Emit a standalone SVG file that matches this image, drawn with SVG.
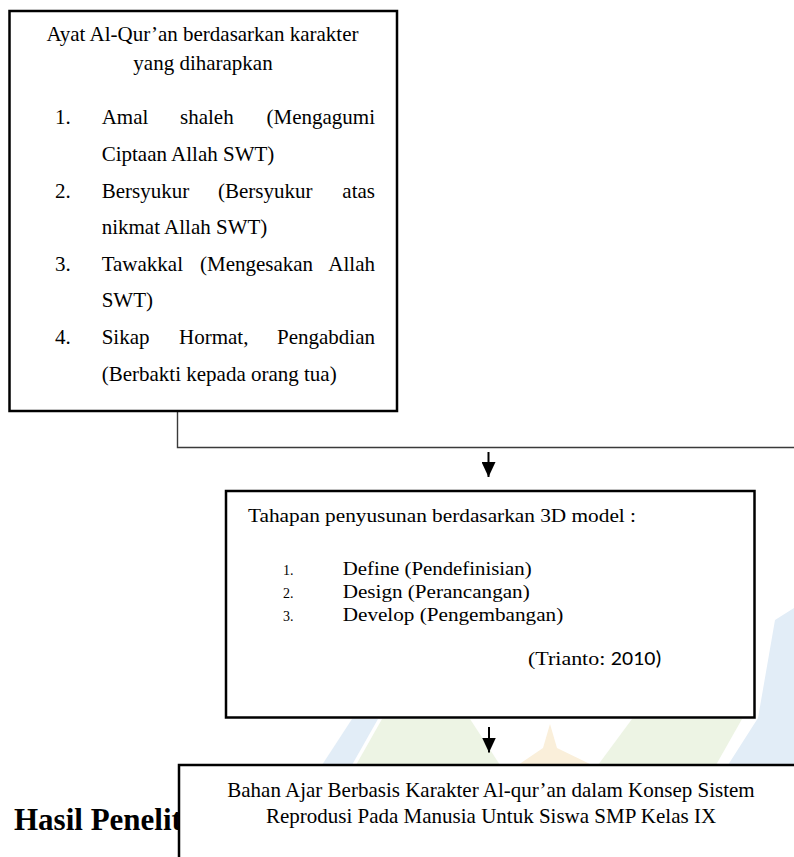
<svg xmlns="http://www.w3.org/2000/svg" width="794" height="857" viewBox="0 0 794 857">
<style>
.box{fill:#fff;stroke:#000;stroke-width:2.5}
.t{font-family:"Liberation Serif","Times New Roman",serif;font-size:21px;fill:#000}
.t2{font-family:"Liberation Serif","Times New Roman",serif;font-size:19.5px;fill:#000}
.num{font-family:"Liberation Serif","Times New Roman",serif;font-size:14px;fill:#000}
.sans{font-family:Carlito,"Liberation Sans",Calibri,sans-serif}
.h{font-family:"Liberation Serif","Times New Roman",serif;font-size:31px;font-weight:bold;fill:#000}
.conn{fill:none;stroke:#3a3a3a;stroke-width:1.4}
.arrow{stroke:#000;stroke-width:2;fill:none}
.wb{fill:#e2edf7}
.wg{fill:#edf4e4}
.wo{fill:#faefda}
</style>
<defs>
<marker id="ah" viewBox="0 0 15 14" refX="15" refY="7" markerWidth="15" markerHeight="14" markerUnits="userSpaceOnUse" orient="auto">
<path d="M0,0 L15,7 L0,14 z" fill="#000"/>
</marker>
</defs>
<rect width="794" height="857" fill="#fff"/>
<g id="watermark">
<polygon class="wb" points="775,620 794,608 794,765 728,765 758,718"/>
<polygon class="wb" points="322,765 352,719 378,719 352,765"/>
<polygon class="wg" points="356,765 382,719 470,719 500,765"/>
<polygon class="wo" points="518,765 543,748 550,724 557,748 592,765"/>
<polygon class="wg" points="598,765 632,719 742,719 716,765"/>
</g>
<text class="h" x="14" y="830">Hasil Penelit</text>
<g id="connectors">
<path class="conn" d="M177.5 411 V447.5 H794"/>
<line class="arrow" x1="488.5" y1="452" x2="488.5" y2="477" marker-end="url(#ah)"/>
<line class="arrow" x1="489" y1="727" x2="489" y2="752.5" marker-end="url(#ah)"/>
</g>
<g id="node1">
<rect class="box" x="9.5" y="11" width="387.5" height="400"/>
<text class="t" x="202.5" y="41" text-anchor="middle">Ayat Al-Qur’an berdasarkan karakter</text>
<text class="t" x="203" y="70" text-anchor="middle">yang diharapkan</text>
<text class="t" x="55" y="124">1.</text>
<text class="t" y="124"><tspan x="101.7">Amal</tspan><tspan x="180">shaleh</tspan><tspan x="375" text-anchor="end">(Mengagumi</tspan></text>
<text class="t" x="101.7" y="160.5">Ciptaan Allah SWT)</text>
<text class="t" x="55" y="198">2.</text>
<text class="t" y="198"><tspan x="101.7">Bersyukur</tspan><tspan x="218">(Bersyukur</tspan><tspan x="375" text-anchor="end">atas</tspan></text>
<text class="t" x="101.7" y="233.5">nikmat Allah SWT)</text>
<text class="t" x="55" y="270.5">3.</text>
<text class="t" y="270.5"><tspan x="101.7">Tawakkal</tspan><tspan x="200">(Mengesakan</tspan><tspan x="375" text-anchor="end">Allah</tspan></text>
<text class="t" x="101.7" y="307">SWT)</text>
<text class="t" x="55" y="344">4.</text>
<text class="t" y="344"><tspan x="101.7">Sikap</tspan><tspan x="179">Hormat,</tspan><tspan x="375" text-anchor="end">Pengabdian</tspan></text>
<text class="t" x="101.7" y="380.5">(Berbakti kepada orang tua)</text>
</g>
<g id="node2">
<rect class="box" x="226" y="491" width="528.5" height="226.5"/>
<text class="t2" x="248" y="522" textLength="388" lengthAdjust="spacingAndGlyphs">Tahapan penyusunan berdasarkan 3D model :</text>
<text class="num" x="283" y="575">1.</text>
<text class="t2" x="342.7" y="575" textLength="189" lengthAdjust="spacingAndGlyphs">Define (Pendefinisian)</text>
<text class="num" x="283" y="598">2.</text>
<text class="t2" x="342.7" y="598" textLength="187" lengthAdjust="spacingAndGlyphs">Design (Perancangan)</text>
<text class="num" x="283" y="621">3.</text>
<text class="t2" x="342.7" y="621" textLength="220.5" lengthAdjust="spacingAndGlyphs">Develop (Pengembangan)</text>
<text class="t2" x="528" y="665" textLength="134" lengthAdjust="spacingAndGlyphs">(Trianto: <tspan class="sans">2010)</tspan></text>
</g>
<g id="node3">
<rect class="box" x="179" y="765" width="630" height="110"/>
<text class="t" x="491" y="797" text-anchor="middle">Bahan Ajar Berbasis Karakter Al-qur’an dalam Konsep Sistem</text>
<text class="t" x="491" y="823" text-anchor="middle">Reprodusi Pada Manusia Untuk Siswa SMP Kelas IX</text>
</g>
</svg>
